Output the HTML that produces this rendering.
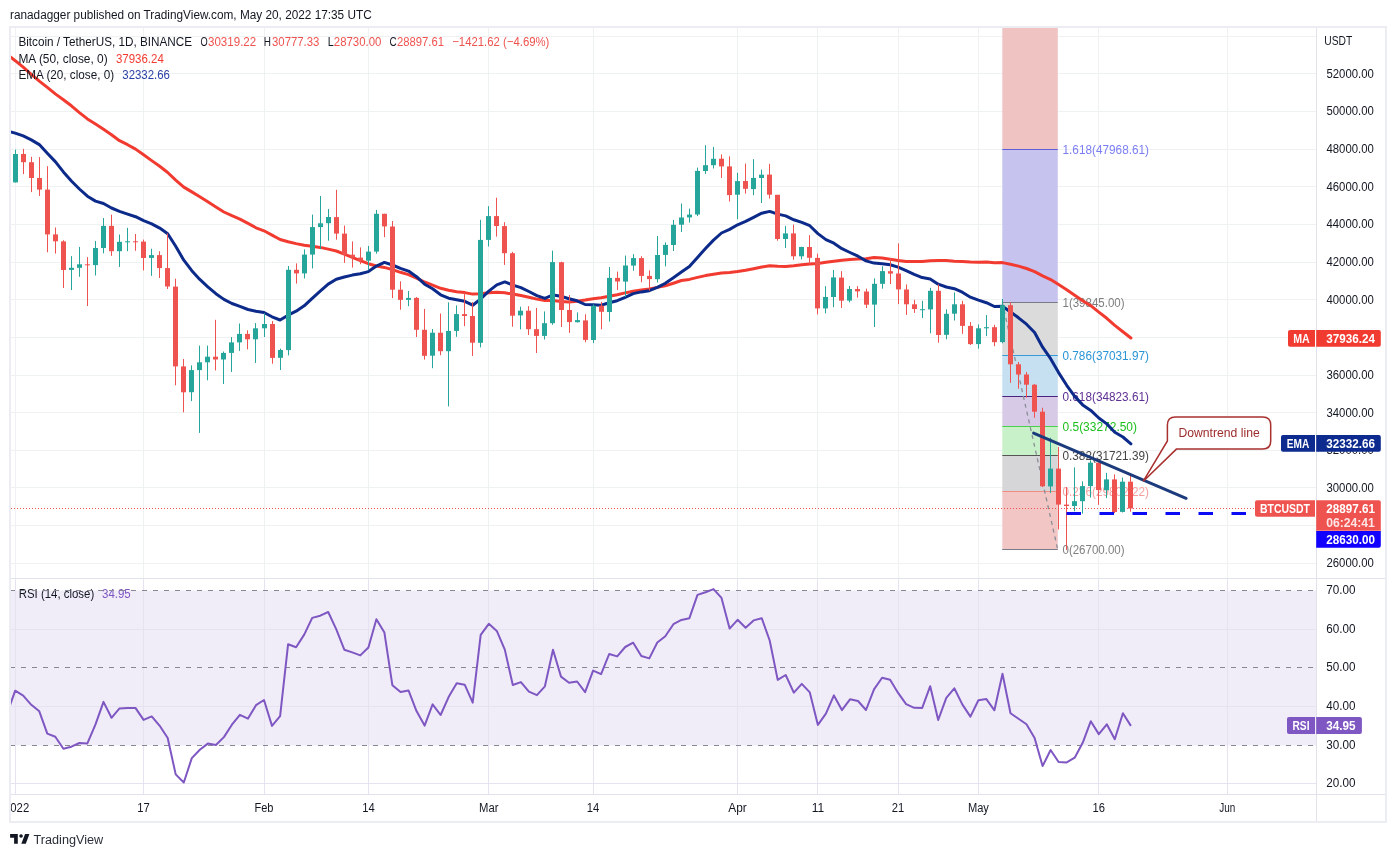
<!DOCTYPE html>
<html><head><meta charset="utf-8"><style>
html,body{margin:0;padding:0;background:#fff;}
body{width:1396px;height:857px;overflow:hidden;}
svg{display:block;will-change:transform;}
</style></head><body>
<svg width="1396" height="857" viewBox="0 0 1396 857" font-family="Liberation Sans, sans-serif"><defs><clipPath id="pc"><rect x="11" y="28" width="1305.3" height="550.4"/></clipPath><clipPath id="rc"><rect x="11" y="579.4" width="1305.3" height="215.0"/></clipPath><clipPath id="tc"><rect x="11" y="794.4" width="1305.3" height="27"/></clipPath></defs><rect x="0" y="0" width="1396" height="857" fill="#ffffff"/><text x="10.0" y="18.5" fill="#131722" font-size="12.5" textLength="361.7" lengthAdjust="spacingAndGlyphs">ranadagger published on TradingView.com, May 20, 2022 17:35 UTC</text><g stroke="#eff2f3" stroke-width="1" shape-rendering="crispEdges"><line x1="11" y1="563.5" x2="1316.3" y2="563.5"/><line x1="11" y1="525.5" x2="1316.3" y2="525.5"/><line x1="11" y1="487.5" x2="1316.3" y2="487.5"/><line x1="11" y1="450.5" x2="1316.3" y2="450.5"/><line x1="11" y1="412.5" x2="1316.3" y2="412.5"/><line x1="11" y1="375.5" x2="1316.3" y2="375.5"/><line x1="11" y1="337.5" x2="1316.3" y2="337.5"/><line x1="11" y1="299.5" x2="1316.3" y2="299.5"/><line x1="11" y1="262.5" x2="1316.3" y2="262.5"/><line x1="11" y1="224.5" x2="1316.3" y2="224.5"/><line x1="11" y1="186.5" x2="1316.3" y2="186.5"/><line x1="11" y1="149.5" x2="1316.3" y2="149.5"/><line x1="11" y1="111.5" x2="1316.3" y2="111.5"/><line x1="11" y1="73.5" x2="1316.3" y2="73.5"/><line x1="11" y1="36.5" x2="1316.3" y2="36.5"/><line x1="11" y1="783.5" x2="1316.3" y2="783.5"/><line x1="11" y1="706.5" x2="1316.3" y2="706.5"/><line x1="11" y1="629.5" x2="1316.3" y2="629.5"/><line x1="15.5" y1="28" x2="15.5" y2="794.4"/><line x1="143.5" y1="28" x2="143.5" y2="794.4"/><line x1="264.5" y1="28" x2="264.5" y2="794.4"/><line x1="368.5" y1="28" x2="368.5" y2="794.4"/><line x1="488.5" y1="28" x2="488.5" y2="794.4"/><line x1="593.5" y1="28" x2="593.5" y2="794.4"/><line x1="737.5" y1="28" x2="737.5" y2="794.4"/><line x1="817.5" y1="28" x2="817.5" y2="794.4"/><line x1="898.5" y1="28" x2="898.5" y2="794.4"/><line x1="978.5" y1="28" x2="978.5" y2="794.4"/><line x1="1098.5" y1="28" x2="1098.5" y2="794.4"/><line x1="1227.5" y1="28" x2="1227.5" y2="794.4"/></g><g clip-path="url(#pc)"><rect x="1002.3" y="-345.9" width="55.5" height="495.2" fill="#f0c3c3"/><rect x="1002.3" y="149.3" width="55.5" height="153.0" fill="#c6c4ef"/><rect x="1002.3" y="302.3" width="55.5" height="53.0" fill="#dbdbdb"/><rect x="1002.3" y="355.3" width="55.5" height="41.6" fill="#c6e0f2"/><rect x="1002.3" y="396.9" width="55.5" height="29.2" fill="#d7cae6"/><rect x="1002.3" y="426.1" width="55.5" height="29.2" fill="#c9f1c9"/><rect x="1002.3" y="455.3" width="55.5" height="36.1" fill="#d6d6d8"/><rect x="1002.3" y="491.5" width="55.5" height="58.4" fill="#f3c6c6"/><line x1="1002.3" y1="149.5" x2="1057.8" y2="149.5" stroke="#5c5fd8" stroke-width="1"/><line x1="1002.3" y1="302.5" x2="1057.8" y2="302.5" stroke="#787b86" stroke-width="1"/><line x1="1002.3" y1="355.5" x2="1057.8" y2="355.5" stroke="#3a9ad9" stroke-width="1"/><line x1="1002.3" y1="396.5" x2="1057.8" y2="396.5" stroke="#4a2280" stroke-width="1"/><line x1="1002.3" y1="426.5" x2="1057.8" y2="426.5" stroke="#4cd04c" stroke-width="1"/><line x1="1002.3" y1="455.5" x2="1057.8" y2="455.5" stroke="#555555" stroke-width="1"/><line x1="1002.3" y1="491.5" x2="1057.8" y2="491.5" stroke="#f28b82" stroke-width="1"/><line x1="1002.3" y1="549.5" x2="1057.8" y2="549.5" stroke="#787b86" stroke-width="1"/><line x1="1002.3" y1="302.3" x2="1057.8" y2="549.9" stroke="#8a8d96" stroke-width="1.3" stroke-dasharray="4,4"/><line x1="11" y1="508.5" x2="1316.3" y2="508.5" stroke="#ef5350" stroke-width="1" stroke-dasharray="1,2"/><text x="1062.5" y="153.7" fill="#7b7ef2" font-size="12.5" textLength="86.5" lengthAdjust="spacingAndGlyphs">1.618(47968.61)</text><text x="1062.5" y="306.7" fill="#7f7f7f" font-size="12.5" textLength="62.0" lengthAdjust="spacingAndGlyphs">1(39845.00)</text><text x="1062.5" y="359.7" fill="#2a94d6" font-size="12.5" textLength="86.4" lengthAdjust="spacingAndGlyphs">0.786(37031.97)</text><text x="1062.5" y="401.3" fill="#5e2f94" font-size="12.5" textLength="86.4" lengthAdjust="spacingAndGlyphs">0.618(34823.61)</text><text x="1062.5" y="430.5" fill="#1cbf1c" font-size="12.5" textLength="74.5" lengthAdjust="spacingAndGlyphs">0.5(33272.50)</text><text x="1062.5" y="459.7" fill="#444444" font-size="12.5" textLength="86.4" lengthAdjust="spacingAndGlyphs">0.382(31721.39)</text><text x="1062.5" y="495.9" fill="#f4a0a0" font-size="12.5" textLength="86.4" lengthAdjust="spacingAndGlyphs">0.236(29802.22)</text><text x="1062.5" y="554.3" fill="#7f7f7f" font-size="12.5" textLength="62.0" lengthAdjust="spacingAndGlyphs">0(26700.00)</text><path d="M-8.9,40.8 L-0.9,47.5 L7.2,54.5 L15.2,60.7 L23.2,67.2 L31.3,74.4 L39.3,81.1 L47.3,87.4 L55.3,93.9 L63.4,99.7 L71.4,105.8 L79.4,112.6 L87.4,118.9 L95.5,124.0 L103.5,129.2 L111.5,134.7 L119.5,140.7 L127.6,144.7 L135.6,149.1 L143.6,154.8 L151.7,160.6 L159.7,166.3 L167.7,172.5 L175.7,180.1 L183.8,187.1 L191.8,191.9 L199.8,196.7 L207.8,201.8 L215.9,207.0 L223.9,212.0 L231.9,215.7 L239.9,219.1 L248.0,223.4 L256.0,227.8 L264.0,230.8 L272.0,235.1 L280.1,239.5 L288.1,241.8 L296.1,243.6 L304.2,245.2 L312.2,246.3 L320.2,247.4 L328.2,249.1 L336.3,251.0 L344.3,254.2 L352.3,257.4 L360.3,260.6 L368.4,263.7 L376.4,266.0 L384.4,267.4 L392.4,269.6 L400.5,272.3 L408.5,274.6 L416.5,278.1 L424.6,282.0 L432.6,285.1 L440.6,288.3 L448.6,290.3 L456.7,291.7 L464.7,292.6 L472.7,294.1 L480.7,293.7 L488.8,292.7 L496.8,292.2 L504.8,292.8 L512.8,294.1 L520.9,295.5 L528.9,297.2 L536.9,299.1 L544.9,300.4 L553.0,300.5 L561.0,301.4 L569.0,302.1 L577.1,301.2 L585.1,300.1 L593.1,298.8 L601.1,297.8 L609.2,296.2 L617.2,294.7 L625.2,292.9 L633.2,291.3 L641.3,290.1 L649.3,288.9 L657.3,287.4 L665.3,285.8 L673.4,283.2 L681.4,280.5 L689.4,279.4 L697.5,277.4 L705.5,275.6 L713.5,274.2 L721.5,273.1 L729.6,272.6 L737.6,271.6 L745.6,270.3 L753.6,268.7 L761.7,267.0 L769.7,265.8 L777.7,266.3 L785.7,266.5 L793.8,265.8 L801.8,264.7 L809.8,263.9 L817.9,263.5 L825.9,262.3 L833.9,261.2 L841.9,260.2 L850.0,259.4 L858.0,258.9 L866.0,258.7 L874.0,257.5 L882.1,258.1 L890.1,259.3 L898.1,260.6 L906.1,261.6 L914.2,261.5 L922.2,261.4 L930.2,260.7 L938.2,260.6 L946.3,260.5 L954.3,261.3 L962.3,261.6 L970.4,262.0 L978.4,262.2 L986.4,262.0 L994.4,262.7 L1002.5,262.6 L1010.5,264.3 L1018.5,266.1 L1026.5,268.5 L1034.6,271.6 L1042.6,275.8 L1050.6,279.6 L1058.6,284.6 L1066.7,289.8 L1074.7,295.3 L1082.7,300.7 L1090.8,305.7 L1098.8,312.1 L1106.8,318.3 L1114.8,325.4 L1122.9,331.7 L1130.9,338.0" fill="none" stroke="#f23b30" stroke-width="3" stroke-linejoin="round" stroke-linecap="round"/><path d="M-8.9,121.3 L-0.9,125.5 L7.2,130.9 L15.2,133.1 L23.2,135.9 L31.3,139.9 L39.3,144.6 L47.3,153.2 L55.3,161.6 L63.4,171.9 L71.4,181.0 L79.4,189.0 L87.4,196.2 L95.5,201.1 L103.5,203.5 L111.5,208.0 L119.5,211.3 L127.6,214.1 L135.6,216.7 L143.6,220.7 L151.7,223.9 L159.7,228.1 L167.7,233.7 L175.7,246.3 L183.8,260.2 L191.8,270.7 L199.8,279.4 L207.8,286.8 L215.9,293.7 L223.9,299.4 L231.9,303.5 L239.9,306.4 L248.0,309.5 L256.0,311.3 L264.0,312.5 L272.0,316.8 L280.1,320.0 L288.1,315.2 L296.1,311.2 L304.2,305.8 L312.2,298.3 L320.2,291.2 L328.2,284.1 L336.3,279.3 L344.3,277.0 L352.3,275.1 L360.3,273.7 L368.4,271.6 L376.4,266.1 L384.4,262.4 L392.4,265.0 L400.5,268.3 L408.5,271.1 L416.5,276.7 L424.6,284.2 L432.6,288.8 L440.6,294.8 L448.6,298.2 L456.7,299.7 L464.7,301.3 L472.7,305.2 L480.7,299.0 L488.8,291.1 L496.8,284.9 L504.8,281.9 L512.8,285.1 L520.9,287.6 L528.9,291.5 L536.9,295.7 L544.9,298.4 L553.0,294.9 L561.0,296.3 L569.0,298.8 L577.1,300.8 L585.1,304.5 L593.1,304.7 L601.1,305.3 L609.2,302.7 L617.2,300.7 L625.2,297.3 L633.2,293.6 L641.3,291.9 L649.3,290.7 L657.3,287.3 L665.3,283.3 L673.4,277.7 L681.4,272.0 L689.4,266.5 L697.5,257.4 L705.5,248.6 L713.5,240.1 L721.5,233.0 L729.6,229.4 L737.6,224.8 L745.6,221.4 L753.6,217.3 L761.7,213.2 L769.7,211.4 L777.7,214.1 L785.7,215.9 L793.8,219.8 L801.8,222.4 L809.8,225.7 L817.9,233.6 L825.9,239.6 L833.9,243.2 L841.9,248.7 L850.0,252.5 L858.0,256.2 L866.0,260.9 L874.0,263.1 L882.1,263.8 L890.1,264.7 L898.1,267.1 L906.1,270.6 L914.2,274.3 L922.2,277.6 L930.2,278.9 L938.2,284.2 L946.3,287.0 L954.3,288.7 L962.3,292.2 L970.4,297.2 L978.4,300.1 L986.4,302.7 L994.4,306.5 L1002.5,306.3 L1010.5,311.9 L1018.5,317.8 L1026.5,324.2 L1034.6,332.5 L1042.6,347.2 L1050.6,358.7 L1058.6,372.6 L1066.7,385.3 L1074.7,396.4 L1082.7,404.9 L1090.8,410.4 L1098.8,418.0 L1106.8,423.9 L1114.8,432.3 L1122.9,437.0 L1130.9,443.8" fill="none" stroke="#0c2a8a" stroke-width="3" stroke-linejoin="round" stroke-linecap="round"/><rect x="15" y="149.6" width="1" height="32.9" fill="#26a69a"/><rect x="13" y="154.0" width="5" height="28.4" fill="#26a69a"/><rect x="23" y="148.9" width="1" height="25.2" fill="#ef5350"/><rect x="21" y="154.0" width="5" height="8.2" fill="#ef5350"/><rect x="31" y="156.8" width="1" height="35.3" fill="#ef5350"/><rect x="29" y="162.2" width="5" height="15.8" fill="#ef5350"/><rect x="39" y="157.1" width="1" height="38.8" fill="#ef5350"/><rect x="37" y="178.0" width="5" height="11.6" fill="#ef5350"/><rect x="47" y="166.2" width="1" height="86.1" fill="#ef5350"/><rect x="45" y="189.6" width="5" height="44.8" fill="#ef5350"/><rect x="55" y="227.5" width="1" height="26.1" fill="#ef5350"/><rect x="53" y="234.4" width="5" height="6.9" fill="#ef5350"/><rect x="63" y="240.2" width="1" height="47.8" fill="#ef5350"/><rect x="61" y="241.4" width="5" height="28.6" fill="#ef5350"/><rect x="71" y="256.1" width="1" height="33.9" fill="#26a69a"/><rect x="69" y="267.8" width="5" height="2.1" fill="#26a69a"/><rect x="79" y="246.9" width="1" height="29.9" fill="#26a69a"/><rect x="77" y="264.3" width="5" height="3.5" fill="#26a69a"/><rect x="87" y="257.1" width="1" height="48.9" fill="#ef5350"/><rect x="85" y="264.3" width="5" height="1.0" fill="#ef5350"/><rect x="95" y="241.0" width="1" height="34.5" fill="#26a69a"/><rect x="93" y="248.0" width="5" height="17.1" fill="#26a69a"/><rect x="103" y="218.0" width="1" height="35.3" fill="#26a69a"/><rect x="101" y="225.9" width="5" height="22.1" fill="#26a69a"/><rect x="111" y="214.7" width="1" height="41.2" fill="#ef5350"/><rect x="109" y="225.9" width="5" height="25.3" fill="#ef5350"/><rect x="119" y="234.5" width="1" height="32.4" fill="#26a69a"/><rect x="117" y="241.8" width="5" height="9.4" fill="#26a69a"/><rect x="127" y="227.8" width="1" height="23.4" fill="#26a69a"/><rect x="125" y="241.3" width="5" height="1.0" fill="#26a69a"/><rect x="135" y="234.0" width="1" height="16.8" fill="#ef5350"/><rect x="133" y="241.3" width="5" height="1.0" fill="#ef5350"/><rect x="143" y="239.6" width="1" height="30.8" fill="#ef5350"/><rect x="141" y="241.6" width="5" height="16.4" fill="#ef5350"/><rect x="151" y="248.7" width="1" height="27.1" fill="#26a69a"/><rect x="149" y="255.1" width="5" height="2.8" fill="#26a69a"/><rect x="159" y="251.2" width="1" height="26.8" fill="#ef5350"/><rect x="157" y="255.1" width="5" height="13.0" fill="#ef5350"/><rect x="167" y="233.4" width="1" height="55.6" fill="#ef5350"/><rect x="165" y="268.1" width="5" height="18.4" fill="#ef5350"/><rect x="175" y="278.7" width="1" height="106.6" fill="#ef5350"/><rect x="173" y="286.6" width="5" height="79.8" fill="#ef5350"/><rect x="183" y="359.0" width="1" height="53.3" fill="#ef5350"/><rect x="181" y="366.4" width="5" height="25.9" fill="#ef5350"/><rect x="191" y="365.4" width="1" height="35.7" fill="#26a69a"/><rect x="189" y="370.1" width="5" height="22.1" fill="#26a69a"/><rect x="199" y="345.6" width="1" height="87.3" fill="#26a69a"/><rect x="197" y="362.3" width="5" height="7.8" fill="#26a69a"/><rect x="207" y="345.6" width="1" height="34.7" fill="#26a69a"/><rect x="205" y="356.7" width="5" height="5.6" fill="#26a69a"/><rect x="215" y="319.8" width="1" height="50.6" fill="#ef5350"/><rect x="213" y="356.7" width="5" height="2.8" fill="#ef5350"/><rect x="223" y="351.5" width="1" height="32.5" fill="#26a69a"/><rect x="221" y="352.9" width="5" height="6.6" fill="#26a69a"/><rect x="231" y="337.1" width="1" height="34.8" fill="#26a69a"/><rect x="229" y="342.4" width="5" height="10.5" fill="#26a69a"/><rect x="239" y="323.5" width="1" height="27.4" fill="#26a69a"/><rect x="237" y="333.9" width="5" height="8.5" fill="#26a69a"/><rect x="247" y="330.3" width="1" height="19.0" fill="#ef5350"/><rect x="245" y="333.9" width="5" height="5.4" fill="#ef5350"/><rect x="255" y="323.1" width="1" height="39.8" fill="#26a69a"/><rect x="253" y="328.3" width="5" height="11.0" fill="#26a69a"/><rect x="264" y="313.2" width="1" height="23.8" fill="#26a69a"/><rect x="262" y="324.0" width="5" height="4.3" fill="#26a69a"/><rect x="272" y="321.0" width="1" height="42.7" fill="#ef5350"/><rect x="270" y="324.0" width="5" height="33.9" fill="#ef5350"/><rect x="280" y="348.6" width="1" height="21.4" fill="#26a69a"/><rect x="278" y="350.0" width="5" height="7.8" fill="#26a69a"/><rect x="288" y="266.0" width="1" height="89.4" fill="#26a69a"/><rect x="286" y="269.8" width="5" height="80.3" fill="#26a69a"/><rect x="296" y="263.4" width="1" height="20.2" fill="#ef5350"/><rect x="294" y="269.8" width="5" height="3.6" fill="#ef5350"/><rect x="304" y="249.4" width="1" height="29.0" fill="#26a69a"/><rect x="302" y="254.6" width="5" height="18.8" fill="#26a69a"/><rect x="312" y="214.6" width="1" height="53.8" fill="#26a69a"/><rect x="310" y="227.1" width="5" height="27.5" fill="#26a69a"/><rect x="320" y="196.0" width="1" height="53.2" fill="#26a69a"/><rect x="318" y="223.3" width="5" height="3.8" fill="#26a69a"/><rect x="328" y="209.0" width="1" height="31.7" fill="#26a69a"/><rect x="326" y="217.0" width="5" height="6.2" fill="#26a69a"/><rect x="336" y="189.8" width="1" height="49.9" fill="#ef5350"/><rect x="334" y="217.1" width="5" height="16.5" fill="#ef5350"/><rect x="344" y="225.6" width="1" height="37.3" fill="#ef5350"/><rect x="342" y="233.6" width="5" height="21.1" fill="#ef5350"/><rect x="352" y="241.4" width="1" height="26.2" fill="#ef5350"/><rect x="350" y="254.7" width="5" height="2.9" fill="#ef5350"/><rect x="360" y="247.4" width="1" height="16.8" fill="#ef5350"/><rect x="358" y="257.6" width="5" height="3.1" fill="#ef5350"/><rect x="368" y="245.9" width="1" height="24.3" fill="#26a69a"/><rect x="366" y="251.6" width="5" height="9.1" fill="#26a69a"/><rect x="376" y="209.9" width="1" height="43.8" fill="#26a69a"/><rect x="374" y="213.8" width="5" height="37.8" fill="#26a69a"/><rect x="384" y="213.7" width="1" height="23.4" fill="#ef5350"/><rect x="382" y="213.8" width="5" height="12.6" fill="#ef5350"/><rect x="392" y="221.0" width="1" height="77.1" fill="#ef5350"/><rect x="390" y="226.5" width="5" height="63.2" fill="#ef5350"/><rect x="400" y="281.3" width="1" height="28.4" fill="#ef5350"/><rect x="398" y="289.7" width="5" height="10.2" fill="#ef5350"/><rect x="408" y="291.0" width="1" height="15.2" fill="#26a69a"/><rect x="406" y="297.9" width="5" height="2.0" fill="#26a69a"/><rect x="416" y="297.0" width="1" height="40.0" fill="#ef5350"/><rect x="414" y="297.9" width="5" height="31.9" fill="#ef5350"/><rect x="424" y="308.9" width="1" height="50.7" fill="#ef5350"/><rect x="422" y="329.8" width="5" height="26.0" fill="#ef5350"/><rect x="432" y="329.0" width="1" height="39.2" fill="#26a69a"/><rect x="430" y="332.7" width="5" height="23.0" fill="#26a69a"/><rect x="440" y="313.5" width="1" height="41.7" fill="#ef5350"/><rect x="438" y="332.7" width="5" height="18.5" fill="#ef5350"/><rect x="448" y="302.4" width="1" height="104.0" fill="#26a69a"/><rect x="446" y="330.9" width="5" height="20.3" fill="#26a69a"/><rect x="456" y="305.4" width="1" height="31.4" fill="#26a69a"/><rect x="454" y="314.1" width="5" height="16.8" fill="#26a69a"/><rect x="464" y="292.8" width="1" height="33.4" fill="#ef5350"/><rect x="462" y="314.1" width="5" height="1.9" fill="#ef5350"/><rect x="472" y="302.1" width="1" height="53.8" fill="#ef5350"/><rect x="470" y="316.0" width="5" height="26.7" fill="#ef5350"/><rect x="480" y="219.8" width="1" height="127.6" fill="#26a69a"/><rect x="478" y="239.9" width="5" height="102.9" fill="#26a69a"/><rect x="488" y="206.2" width="1" height="40.3" fill="#26a69a"/><rect x="486" y="216.1" width="5" height="23.8" fill="#26a69a"/><rect x="496" y="197.7" width="1" height="38.9" fill="#ef5350"/><rect x="494" y="216.1" width="5" height="9.9" fill="#ef5350"/><rect x="504" y="222.2" width="1" height="42.7" fill="#ef5350"/><rect x="502" y="226.1" width="5" height="27.1" fill="#ef5350"/><rect x="512" y="251.8" width="1" height="74.9" fill="#ef5350"/><rect x="510" y="253.2" width="5" height="62.5" fill="#ef5350"/><rect x="520" y="306.7" width="1" height="22.7" fill="#26a69a"/><rect x="518" y="310.7" width="5" height="4.7" fill="#26a69a"/><rect x="528" y="306.2" width="1" height="28.8" fill="#ef5350"/><rect x="526" y="310.7" width="5" height="18.5" fill="#ef5350"/><rect x="536" y="307.9" width="1" height="45.1" fill="#ef5350"/><rect x="534" y="329.2" width="5" height="6.7" fill="#ef5350"/><rect x="544" y="311.4" width="1" height="28.1" fill="#26a69a"/><rect x="542" y="323.2" width="5" height="12.7" fill="#26a69a"/><rect x="552" y="250.6" width="1" height="74.2" fill="#26a69a"/><rect x="550" y="262.1" width="5" height="61.1" fill="#26a69a"/><rect x="561" y="261.7" width="1" height="65.3" fill="#ef5350"/><rect x="559" y="262.2" width="5" height="47.8" fill="#ef5350"/><rect x="569" y="295.0" width="1" height="37.9" fill="#ef5350"/><rect x="567" y="310.0" width="5" height="12.1" fill="#ef5350"/><rect x="577" y="312.4" width="1" height="10.1" fill="#26a69a"/><rect x="575" y="320.1" width="5" height="2.1" fill="#26a69a"/><rect x="585" y="314.3" width="1" height="27.9" fill="#ef5350"/><rect x="583" y="320.4" width="5" height="19.5" fill="#ef5350"/><rect x="593" y="304.3" width="1" height="38.8" fill="#26a69a"/><rect x="591" y="305.7" width="5" height="34.3" fill="#26a69a"/><rect x="601" y="301.8" width="1" height="27.5" fill="#ef5350"/><rect x="599" y="305.7" width="5" height="6.1" fill="#ef5350"/><rect x="609" y="267.0" width="1" height="54.5" fill="#26a69a"/><rect x="607" y="277.9" width="5" height="34.1" fill="#26a69a"/><rect x="617" y="271.6" width="1" height="18.4" fill="#ef5350"/><rect x="615" y="277.9" width="5" height="3.6" fill="#ef5350"/><rect x="625" y="255.6" width="1" height="41.2" fill="#26a69a"/><rect x="623" y="265.5" width="5" height="16.1" fill="#26a69a"/><rect x="633" y="254.2" width="1" height="16.6" fill="#26a69a"/><rect x="631" y="258.1" width="5" height="7.5" fill="#26a69a"/><rect x="641" y="256.2" width="1" height="26.1" fill="#ef5350"/><rect x="639" y="258.1" width="5" height="17.8" fill="#ef5350"/><rect x="649" y="270.3" width="1" height="20.3" fill="#ef5350"/><rect x="647" y="275.9" width="5" height="3.2" fill="#ef5350"/><rect x="657" y="236.1" width="1" height="46.4" fill="#26a69a"/><rect x="655" y="255.0" width="5" height="24.2" fill="#26a69a"/><rect x="665" y="242.4" width="1" height="24.0" fill="#26a69a"/><rect x="663" y="244.9" width="5" height="10.0" fill="#26a69a"/><rect x="673" y="219.9" width="1" height="31.1" fill="#26a69a"/><rect x="671" y="224.8" width="5" height="20.2" fill="#26a69a"/><rect x="681" y="203.5" width="1" height="28.5" fill="#26a69a"/><rect x="679" y="217.5" width="5" height="7.2" fill="#26a69a"/><rect x="689" y="208.6" width="1" height="14.0" fill="#26a69a"/><rect x="687" y="214.6" width="5" height="2.8" fill="#26a69a"/><rect x="697" y="167.6" width="1" height="48.5" fill="#26a69a"/><rect x="695" y="170.9" width="5" height="43.6" fill="#26a69a"/><rect x="705" y="145.2" width="1" height="28.7" fill="#26a69a"/><rect x="703" y="165.2" width="5" height="5.8" fill="#26a69a"/><rect x="713" y="146.9" width="1" height="21.6" fill="#26a69a"/><rect x="711" y="158.8" width="5" height="6.4" fill="#26a69a"/><rect x="721" y="154.4" width="1" height="23.6" fill="#ef5350"/><rect x="719" y="158.7" width="5" height="7.7" fill="#ef5350"/><rect x="729" y="156.3" width="1" height="45.2" fill="#ef5350"/><rect x="727" y="166.4" width="5" height="28.7" fill="#ef5350"/><rect x="737" y="172.8" width="1" height="46.4" fill="#26a69a"/><rect x="735" y="181.1" width="5" height="13.6" fill="#26a69a"/><rect x="745" y="163.6" width="1" height="30.0" fill="#ef5350"/><rect x="743" y="181.0" width="5" height="7.8" fill="#ef5350"/><rect x="753" y="159.2" width="1" height="36.0" fill="#26a69a"/><rect x="751" y="177.9" width="5" height="11.2" fill="#26a69a"/><rect x="761" y="169.6" width="1" height="33.4" fill="#26a69a"/><rect x="759" y="174.7" width="5" height="3.3" fill="#26a69a"/><rect x="769" y="163.8" width="1" height="34.8" fill="#ef5350"/><rect x="767" y="174.6" width="5" height="20.1" fill="#ef5350"/><rect x="777" y="194.8" width="1" height="45.9" fill="#ef5350"/><rect x="775" y="194.8" width="5" height="44.2" fill="#ef5350"/><rect x="785" y="225.9" width="1" height="22.1" fill="#26a69a"/><rect x="783" y="233.4" width="5" height="5.6" fill="#26a69a"/><rect x="793" y="224.6" width="1" height="35.1" fill="#ef5350"/><rect x="791" y="233.4" width="5" height="22.9" fill="#ef5350"/><rect x="801" y="246.7" width="1" height="12.7" fill="#26a69a"/><rect x="799" y="247.0" width="5" height="9.3" fill="#26a69a"/><rect x="809" y="235.2" width="1" height="29.0" fill="#ef5350"/><rect x="807" y="247.0" width="5" height="10.8" fill="#ef5350"/><rect x="817" y="253.7" width="1" height="60.7" fill="#ef5350"/><rect x="815" y="257.9" width="5" height="50.5" fill="#ef5350"/><rect x="825" y="286.2" width="1" height="27.2" fill="#26a69a"/><rect x="823" y="297.0" width="5" height="11.4" fill="#26a69a"/><rect x="833" y="270.0" width="1" height="37.2" fill="#26a69a"/><rect x="831" y="277.4" width="5" height="19.6" fill="#26a69a"/><rect x="841" y="271.2" width="1" height="36.7" fill="#ef5350"/><rect x="839" y="277.6" width="5" height="23.1" fill="#ef5350"/><rect x="849" y="286.0" width="1" height="16.3" fill="#26a69a"/><rect x="847" y="289.0" width="5" height="11.6" fill="#26a69a"/><rect x="857" y="286.1" width="1" height="11.5" fill="#ef5350"/><rect x="855" y="289.0" width="5" height="2.4" fill="#ef5350"/><rect x="866" y="288.7" width="1" height="19.3" fill="#ef5350"/><rect x="864" y="291.5" width="5" height="13.2" fill="#ef5350"/><rect x="874" y="278.4" width="1" height="48.6" fill="#26a69a"/><rect x="872" y="283.8" width="5" height="20.8" fill="#26a69a"/><rect x="882" y="266.3" width="1" height="22.4" fill="#26a69a"/><rect x="880" y="271.1" width="5" height="12.7" fill="#26a69a"/><rect x="890" y="258.0" width="1" height="26.0" fill="#ef5350"/><rect x="888" y="271.2" width="5" height="2.4" fill="#ef5350"/><rect x="898" y="243.4" width="1" height="60.7" fill="#ef5350"/><rect x="896" y="273.5" width="5" height="15.9" fill="#ef5350"/><rect x="906" y="284.4" width="1" height="30.5" fill="#ef5350"/><rect x="904" y="289.5" width="5" height="14.8" fill="#ef5350"/><rect x="914" y="299.8" width="1" height="13.1" fill="#ef5350"/><rect x="912" y="304.3" width="5" height="4.7" fill="#ef5350"/><rect x="922" y="300.8" width="1" height="17.3" fill="#26a69a"/><rect x="920" y="309.2" width="5" height="1.0" fill="#26a69a"/><rect x="930" y="287.8" width="1" height="45.5" fill="#26a69a"/><rect x="928" y="290.8" width="5" height="18.6" fill="#26a69a"/><rect x="938" y="284.4" width="1" height="58.3" fill="#ef5350"/><rect x="936" y="290.8" width="5" height="44.2" fill="#ef5350"/><rect x="946" y="309.3" width="1" height="30.0" fill="#26a69a"/><rect x="944" y="313.8" width="5" height="21.0" fill="#26a69a"/><rect x="954" y="292.4" width="1" height="28.1" fill="#26a69a"/><rect x="952" y="304.3" width="5" height="9.4" fill="#26a69a"/><rect x="962" y="300.8" width="1" height="33.0" fill="#ef5350"/><rect x="960" y="304.3" width="5" height="21.6" fill="#ef5350"/><rect x="970" y="322.1" width="1" height="22.9" fill="#ef5350"/><rect x="968" y="325.9" width="5" height="18.2" fill="#ef5350"/><rect x="978" y="324.4" width="1" height="24.3" fill="#26a69a"/><rect x="976" y="328.3" width="5" height="15.8" fill="#26a69a"/><rect x="986" y="315.1" width="1" height="21.0" fill="#26a69a"/><rect x="984" y="327.2" width="5" height="1.1" fill="#26a69a"/><rect x="994" y="324.8" width="1" height="21.4" fill="#ef5350"/><rect x="992" y="327.2" width="5" height="15.0" fill="#ef5350"/><rect x="1002" y="299.0" width="1" height="44.3" fill="#26a69a"/><rect x="1000" y="305.2" width="5" height="36.9" fill="#26a69a"/><rect x="1010" y="302.3" width="1" height="80.5" fill="#ef5350"/><rect x="1008" y="305.2" width="5" height="59.1" fill="#ef5350"/><rect x="1018" y="362.0" width="1" height="26.7" fill="#ef5350"/><rect x="1016" y="364.3" width="5" height="10.2" fill="#ef5350"/><rect x="1026" y="372.0" width="1" height="25.6" fill="#ef5350"/><rect x="1024" y="374.5" width="5" height="10.2" fill="#ef5350"/><rect x="1034" y="383.9" width="1" height="33.9" fill="#ef5350"/><rect x="1032" y="384.7" width="5" height="27.0" fill="#ef5350"/><rect x="1042" y="407.8" width="1" height="79.3" fill="#ef5350"/><rect x="1040" y="411.7" width="5" height="74.6" fill="#ef5350"/><rect x="1050" y="437.7" width="1" height="55.2" fill="#26a69a"/><rect x="1048" y="468.6" width="5" height="17.8" fill="#26a69a"/><rect x="1058" y="447.0" width="1" height="82.5" fill="#ef5350"/><rect x="1056" y="468.6" width="5" height="36.0" fill="#ef5350"/><rect x="1066" y="487.2" width="1" height="62.8" fill="#ef5350"/><rect x="1064" y="504.6" width="5" height="1.4" fill="#ef5350"/><rect x="1074" y="467.4" width="1" height="43.9" fill="#26a69a"/><rect x="1072" y="501.2" width="5" height="4.8" fill="#26a69a"/><rect x="1082" y="481.3" width="1" height="32.3" fill="#26a69a"/><rect x="1080" y="486.1" width="5" height="15.1" fill="#26a69a"/><rect x="1090" y="460.3" width="1" height="37.3" fill="#26a69a"/><rect x="1088" y="462.7" width="5" height="23.4" fill="#26a69a"/><rect x="1098" y="462.7" width="1" height="42.2" fill="#ef5350"/><rect x="1096" y="462.7" width="5" height="27.4" fill="#ef5350"/><rect x="1106" y="472.9" width="1" height="25.2" fill="#26a69a"/><rect x="1104" y="479.4" width="5" height="10.8" fill="#26a69a"/><rect x="1114" y="474.4" width="1" height="38.7" fill="#ef5350"/><rect x="1112" y="479.4" width="5" height="32.6" fill="#ef5350"/><rect x="1122" y="477.5" width="1" height="34.9" fill="#26a69a"/><rect x="1120" y="481.7" width="5" height="30.2" fill="#26a69a"/><rect x="1130" y="473.1" width="1" height="38.6" fill="#ef5350"/><rect x="1128" y="481.7" width="5" height="26.8" fill="#ef5350"/><line x1="1033.6" y1="433.1" x2="1186.1" y2="498.3" stroke="#1c3b7c" stroke-width="3" stroke-linecap="round"/><line x1="1066.5" y1="513.6" x2="1246.2" y2="513.6" stroke="#0a0af5" stroke-width="3" stroke-dasharray="14.5,18.5"/><path d="M1175.4,417 H1262.7 Q1270.7,417 1270.7,425 V441.1 Q1270.7,449.1 1262.7,449.1 H1176.4 L1143.3,481.2 L1167.4,441 V425 Q1167.4,417 1175.4,417 Z" fill="#ffffff" stroke="#a8302e" stroke-width="1.5"/><text x="1178.4" y="436.7" fill="#9c2b2b" font-size="12.5" textLength="81.3" lengthAdjust="spacingAndGlyphs">Downtrend line</text><text x="18.4" y="45.9" fill="#131722" font-size="12.5" textLength="173.7" lengthAdjust="spacingAndGlyphs">Bitcoin / TetherUS, 1D, BINANCE</text><text x="200.4" y="45.9" fill="#131722" font-size="12.5" textLength="7.2" lengthAdjust="spacingAndGlyphs">O</text><text x="208.0" y="45.9" fill="#ef5350" font-size="12.5" textLength="48.2" lengthAdjust="spacingAndGlyphs">30319.22</text><text x="263.8" y="45.9" fill="#131722" font-size="12.5" textLength="7.2" lengthAdjust="spacingAndGlyphs">H</text><text x="272.0" y="45.9" fill="#ef5350" font-size="12.5" textLength="47.4" lengthAdjust="spacingAndGlyphs">30777.33</text><text x="327.8" y="45.9" fill="#131722" font-size="12.5" textLength="6.0" lengthAdjust="spacingAndGlyphs">L</text><text x="333.8" y="45.9" fill="#ef5350" font-size="12.5" textLength="47.6" lengthAdjust="spacingAndGlyphs">28730.00</text><text x="389.6" y="45.9" fill="#131722" font-size="12.5" textLength="7.2" lengthAdjust="spacingAndGlyphs">C</text><text x="397.0" y="45.9" fill="#ef5350" font-size="12.5" textLength="47.0" lengthAdjust="spacingAndGlyphs">28897.61</text><text x="452.2" y="45.9" fill="#ef5350" font-size="12.5" textLength="97.2" lengthAdjust="spacingAndGlyphs">−1421.62 (−4.69%)</text><text x="18.4" y="62.7" fill="#131722" font-size="12.5" textLength="89.3" lengthAdjust="spacingAndGlyphs">MA (50, close, 0)</text><text x="115.9" y="62.7" fill="#f23b30" font-size="12.5" textLength="47.9" lengthAdjust="spacingAndGlyphs">37936.24</text><text x="18.4" y="79.3" fill="#131722" font-size="12.5" textLength="95.7" lengthAdjust="spacingAndGlyphs">EMA (20, close, 0)</text><text x="122.3" y="79.3" fill="#2a3fa5" font-size="12.5" textLength="47.6" lengthAdjust="spacingAndGlyphs">32332.66</text></g><g clip-path="url(#rc)"><rect x="11" y="590.5" width="1305.3" height="155.0" fill="#f0ecf8"/><line x1="11" y1="783.5" x2="1316.3" y2="783.5" stroke="#e6e2ef" stroke-width="1"/><line x1="11" y1="706.5" x2="1316.3" y2="706.5" stroke="#e6e2ef" stroke-width="1"/><line x1="11" y1="629.5" x2="1316.3" y2="629.5" stroke="#e6e2ef" stroke-width="1"/><line x1="15.5" y1="578.4" x2="15.5" y2="794.4" stroke="#e6e2ef" stroke-width="1"/><line x1="143.5" y1="578.4" x2="143.5" y2="794.4" stroke="#e6e2ef" stroke-width="1"/><line x1="264.5" y1="578.4" x2="264.5" y2="794.4" stroke="#e6e2ef" stroke-width="1"/><line x1="368.5" y1="578.4" x2="368.5" y2="794.4" stroke="#e6e2ef" stroke-width="1"/><line x1="488.5" y1="578.4" x2="488.5" y2="794.4" stroke="#e6e2ef" stroke-width="1"/><line x1="593.5" y1="578.4" x2="593.5" y2="794.4" stroke="#e6e2ef" stroke-width="1"/><line x1="737.5" y1="578.4" x2="737.5" y2="794.4" stroke="#e6e2ef" stroke-width="1"/><line x1="817.5" y1="578.4" x2="817.5" y2="794.4" stroke="#e6e2ef" stroke-width="1"/><line x1="898.5" y1="578.4" x2="898.5" y2="794.4" stroke="#e6e2ef" stroke-width="1"/><line x1="978.5" y1="578.4" x2="978.5" y2="794.4" stroke="#e6e2ef" stroke-width="1"/><line x1="1098.5" y1="578.4" x2="1098.5" y2="794.4" stroke="#e6e2ef" stroke-width="1"/><line x1="1227.5" y1="578.4" x2="1227.5" y2="794.4" stroke="#e6e2ef" stroke-width="1"/><text x="18.7" y="597.5" fill="#131722" font-size="12.5" textLength="75.5" lengthAdjust="spacingAndGlyphs">RSI (14, close)</text><text x="102.0" y="597.5" fill="#7e57c2" font-size="12.5" textLength="28.7" lengthAdjust="spacingAndGlyphs">34.95</text><line x1="10" y1="590.5" x2="1316.3" y2="590.5" stroke="#868993" stroke-width="1" stroke-dasharray="5,6"/><line x1="10" y1="667.5" x2="1316.3" y2="667.5" stroke="#868993" stroke-width="1" stroke-dasharray="5,6"/><line x1="10" y1="745.5" x2="1316.3" y2="745.5" stroke="#868993" stroke-width="1" stroke-dasharray="5,6"/><path d="M-8.9,714.0 L-0.9,704.1 L7.2,713.1 L15.2,690.7 L23.2,695.6 L31.3,704.8 L39.3,711.3 L47.3,733.6 L55.3,736.7 L63.4,748.8 L71.4,746.7 L79.4,743.0 L87.4,743.4 L95.5,724.4 L103.5,701.9 L111.5,717.8 L119.5,708.4 L127.6,707.9 L135.6,708.1 L143.6,719.9 L151.7,716.4 L159.7,725.8 L167.7,738.0 L175.7,774.4 L183.8,782.5 L191.8,758.1 L199.8,749.7 L207.8,743.6 L215.9,745.0 L223.9,737.1 L231.9,724.7 L239.9,714.8 L248.0,718.6 L256.0,705.2 L264.0,700.0 L272.0,725.9 L280.1,716.2 L288.1,644.2 L296.1,647.3 L304.2,634.6 L312.2,617.9 L320.2,615.7 L328.2,612.0 L336.3,629.4 L344.3,649.7 L352.3,652.4 L360.3,655.4 L368.4,647.5 L376.4,619.2 L384.4,632.6 L392.4,685.3 L400.5,692.1 L408.5,690.4 L416.5,711.1 L424.6,725.6 L432.6,704.4 L440.6,715.0 L448.6,697.1 L456.7,683.3 L464.7,684.7 L472.7,702.7 L480.7,634.8 L488.8,623.8 L496.8,630.9 L504.8,649.6 L512.8,685.0 L520.9,682.1 L528.9,691.7 L536.9,695.2 L544.9,686.3 L553.0,649.8 L561.0,676.6 L569.0,682.8 L577.1,681.5 L585.1,692.2 L593.1,670.6 L601.1,674.2 L609.2,654.0 L617.2,656.4 L625.2,647.0 L633.2,642.7 L641.3,656.0 L649.3,658.4 L657.3,642.5 L665.3,636.2 L673.4,624.2 L681.4,619.9 L689.4,618.2 L697.5,594.9 L705.5,592.2 L713.5,589.1 L721.5,597.9 L729.6,628.6 L737.6,619.8 L745.6,627.8 L753.6,620.4 L761.7,618.2 L769.7,640.5 L777.7,679.9 L785.7,675.0 L793.8,692.6 L801.8,683.9 L809.8,692.4 L817.9,724.9 L825.9,713.7 L833.9,695.4 L841.9,710.1 L850.0,699.3 L858.0,701.0 L866.0,710.0 L874.0,689.4 L882.1,677.8 L890.1,679.8 L898.1,692.9 L906.1,704.2 L914.2,707.8 L922.2,707.9 L930.2,686.2 L938.2,720.0 L946.3,697.8 L954.3,688.3 L962.3,704.4 L970.4,716.6 L978.4,700.2 L986.4,699.1 L994.4,710.3 L1002.5,673.7 L1010.5,713.2 L1018.5,718.7 L1026.5,724.3 L1034.6,737.9 L1042.6,766.1 L1050.6,750.0 L1058.6,762.0 L1066.7,762.4 L1074.7,757.7 L1082.7,742.8 L1090.8,721.2 L1098.8,734.1 L1106.8,724.3 L1114.8,739.2 L1122.9,713.2 L1130.9,725.9" fill="none" stroke="#7e57c2" stroke-width="2" stroke-linejoin="round"/></g><g fill="none" shape-rendering="crispEdges"><rect x="10" y="27" width="1376" height="795" stroke="#ebedf2" stroke-width="2"/><line x1="1316.5" y1="28" x2="1316.5" y2="821" stroke="#e0e3eb" stroke-width="1"/><line x1="11" y1="578.5" x2="1385" y2="578.5" stroke="#e0e3eb" stroke-width="1"/><line x1="11" y1="794.5" x2="1385" y2="794.5" stroke="#e0e3eb" stroke-width="1"/></g><text x="1326.5" y="567.4" fill="#131722" font-size="12.5" textLength="47.3" lengthAdjust="spacingAndGlyphs">26000.00</text><text x="1326.5" y="529.7" fill="#131722" font-size="12.5" textLength="47.3" lengthAdjust="spacingAndGlyphs">28000.00</text><text x="1326.5" y="492.1" fill="#131722" font-size="12.5" textLength="47.3" lengthAdjust="spacingAndGlyphs">30000.00</text><text x="1326.5" y="454.4" fill="#131722" font-size="12.5" textLength="47.3" lengthAdjust="spacingAndGlyphs">32000.00</text><text x="1326.5" y="416.7" fill="#131722" font-size="12.5" textLength="47.3" lengthAdjust="spacingAndGlyphs">34000.00</text><text x="1326.5" y="379.1" fill="#131722" font-size="12.5" textLength="47.3" lengthAdjust="spacingAndGlyphs">36000.00</text><text x="1326.5" y="341.4" fill="#131722" font-size="12.5" textLength="47.3" lengthAdjust="spacingAndGlyphs">38000.00</text><text x="1326.5" y="303.7" fill="#131722" font-size="12.5" textLength="47.3" lengthAdjust="spacingAndGlyphs">40000.00</text><text x="1326.5" y="266.0" fill="#131722" font-size="12.5" textLength="47.3" lengthAdjust="spacingAndGlyphs">42000.00</text><text x="1326.5" y="228.4" fill="#131722" font-size="12.5" textLength="47.3" lengthAdjust="spacingAndGlyphs">44000.00</text><text x="1326.5" y="190.7" fill="#131722" font-size="12.5" textLength="47.3" lengthAdjust="spacingAndGlyphs">46000.00</text><text x="1326.5" y="153.0" fill="#131722" font-size="12.5" textLength="47.3" lengthAdjust="spacingAndGlyphs">48000.00</text><text x="1326.5" y="115.4" fill="#131722" font-size="12.5" textLength="47.3" lengthAdjust="spacingAndGlyphs">50000.00</text><text x="1326.5" y="77.7" fill="#131722" font-size="12.5" textLength="47.3" lengthAdjust="spacingAndGlyphs">52000.00</text><text x="1326.2" y="787.1" fill="#131722" font-size="12.5" textLength="29.2" lengthAdjust="spacingAndGlyphs">20.00</text><text x="1326.2" y="748.5" fill="#131722" font-size="12.5" textLength="29.2" lengthAdjust="spacingAndGlyphs">30.00</text><text x="1326.2" y="709.9" fill="#131722" font-size="12.5" textLength="29.2" lengthAdjust="spacingAndGlyphs">40.00</text><text x="1326.2" y="671.4" fill="#131722" font-size="12.5" textLength="29.2" lengthAdjust="spacingAndGlyphs">50.00</text><text x="1326.2" y="632.8" fill="#131722" font-size="12.5" textLength="29.2" lengthAdjust="spacingAndGlyphs">60.00</text><text x="1326.2" y="594.2" fill="#131722" font-size="12.5" textLength="29.2" lengthAdjust="spacingAndGlyphs">70.00</text><text x="1324.3" y="44.7" fill="#131722" font-size="12" textLength="28.0" lengthAdjust="spacingAndGlyphs">USDT</text><g clip-path="url(#tc)"><text x="16.6" y="811.7" fill="#131722" font-size="12" textLength="25.2" lengthAdjust="spacingAndGlyphs" text-anchor="middle">2022</text><text x="143.6" y="811.7" fill="#131722" font-size="12" textLength="12.5" lengthAdjust="spacingAndGlyphs" text-anchor="middle">17</text><text x="264.0" y="811.7" fill="#131722" font-size="12" textLength="19.0" lengthAdjust="spacingAndGlyphs" text-anchor="middle">Feb</text><text x="368.4" y="811.7" fill="#131722" font-size="12" textLength="12.5" lengthAdjust="spacingAndGlyphs" text-anchor="middle">14</text><text x="488.8" y="811.7" fill="#131722" font-size="12" textLength="19.4" lengthAdjust="spacingAndGlyphs" text-anchor="middle">Mar</text><text x="593.1" y="811.7" fill="#131722" font-size="12" textLength="12.5" lengthAdjust="spacingAndGlyphs" text-anchor="middle">14</text><text x="737.6" y="811.7" fill="#131722" font-size="12" textLength="18.5" lengthAdjust="spacingAndGlyphs" text-anchor="middle">Apr</text><text x="817.9" y="811.7" fill="#131722" font-size="12" textLength="12.5" lengthAdjust="spacingAndGlyphs" text-anchor="middle">11</text><text x="898.1" y="811.7" fill="#131722" font-size="12" textLength="12.5" lengthAdjust="spacingAndGlyphs" text-anchor="middle">21</text><text x="978.4" y="811.7" fill="#131722" font-size="12" textLength="21.0" lengthAdjust="spacingAndGlyphs" text-anchor="middle">May</text><text x="1098.8" y="811.7" fill="#131722" font-size="12" textLength="12.5" lengthAdjust="spacingAndGlyphs" text-anchor="middle">16</text><text x="1227.2" y="811.7" fill="#131722" font-size="12" textLength="16.0" lengthAdjust="spacingAndGlyphs" text-anchor="middle">Jun</text></g><path d="M1290,330.0 H1315 V346.8 H1290 Q1288,346.8 1288,344.8 V332.0 Q1288,330.0 1290,330.0 Z" fill="#f23b30"/><text x="1301.5" y="342.6" fill="#ffffff" font-size="12" textLength="16.5" lengthAdjust="spacingAndGlyphs" text-anchor="middle" font-weight="bold">MA</text><path d="M1316.2,330.0 H1378.8 Q1380.8,330.0 1380.8,332.0 V344.8 Q1380.8,346.8 1378.8,346.8 H1316.2 Z" fill="#f23b30"/><text x="1326.2" y="342.6" fill="#ffffff" font-size="12" textLength="48.7" lengthAdjust="spacingAndGlyphs" font-weight="bold">37936.24</text><path d="M1283,435.0 H1315 V451.8 H1283 Q1281,451.8 1281,449.8 V437.0 Q1281,435.0 1283,435.0 Z" fill="#0d2b8e"/><text x="1298.0" y="447.6" fill="#ffffff" font-size="12" textLength="22.5" lengthAdjust="spacingAndGlyphs" text-anchor="middle" font-weight="bold">EMA</text><path d="M1316.2,435.0 H1378.8 Q1380.8,435.0 1380.8,437.0 V449.8 Q1380.8,451.8 1378.8,451.8 H1316.2 Z" fill="#0d2b8e"/><text x="1326.2" y="447.6" fill="#ffffff" font-size="12" textLength="48.7" lengthAdjust="spacingAndGlyphs" font-weight="bold">32332.66</text><path d="M1257,500.3 H1315 V516.7 H1257 Q1255,516.7 1255,514.7 V502.3 Q1255,500.3 1257,500.3 Z" fill="#ef5350"/><text x="1285.0" y="512.7" fill="#ffffff" font-size="12" textLength="50.0" lengthAdjust="spacingAndGlyphs" text-anchor="middle" font-weight="bold">BTCUSDT</text><path d="M1316.2,500.3 H1378.8 Q1380.8,500.3 1380.8,502.3 V530.7 H1316.2 Z" fill="#ef5350"/><text x="1326.2" y="512.6" fill="#ffffff" font-size="12" textLength="48.7" lengthAdjust="spacingAndGlyphs" font-weight="bold">28897.61</text><text x="1326.2" y="526.5" fill="#ffffff" font-size="12" textLength="48.7" lengthAdjust="spacingAndGlyphs" font-weight="bold" fill-opacity="0.85">06:24:41</text><path d="M1316.2,531.1 H1380.8 V545.7 Q1380.8,547.7 1378.8,547.7 H1316.2 Z" fill="#1100ff"/><text x="1326.2" y="543.6" fill="#ffffff" font-size="12" textLength="48.7" lengthAdjust="spacingAndGlyphs" font-weight="bold">28630.00</text><path d="M1289,717.0 H1315 V734.0 H1289 Q1287,734.0 1287,732.0 V719.0 Q1287,717.0 1289,717.0 Z" fill="#7e57c2"/><text x="1301.0" y="729.7" fill="#ffffff" font-size="12" textLength="17.0" lengthAdjust="spacingAndGlyphs" text-anchor="middle" font-weight="bold">RSI</text><path d="M1316.2,717.0 H1359.9 Q1361.9,717.0 1361.9,719.0 V732.0 Q1361.9,734.0 1359.9,734.0 H1316.2 Z" fill="#7e57c2"/><text x="1326.2" y="729.7" fill="#ffffff" font-size="12" textLength="29.3" lengthAdjust="spacingAndGlyphs" font-weight="bold">34.95</text><g fill="#131722"><path d="M10.1,834.1 H17.8 V843.7 H14.1 V837.7 H10.1 Z"/><circle cx="21.05" cy="836" r="1.8"/><path d="M25.1,834.1 H29.4 L25.8,843.7 H21.3 Z"/></g><text x="33.5" y="843.5" fill="#2a2e39" font-size="12.5" textLength="69.7" lengthAdjust="spacingAndGlyphs">TradingView</text></svg>
</body></html>
